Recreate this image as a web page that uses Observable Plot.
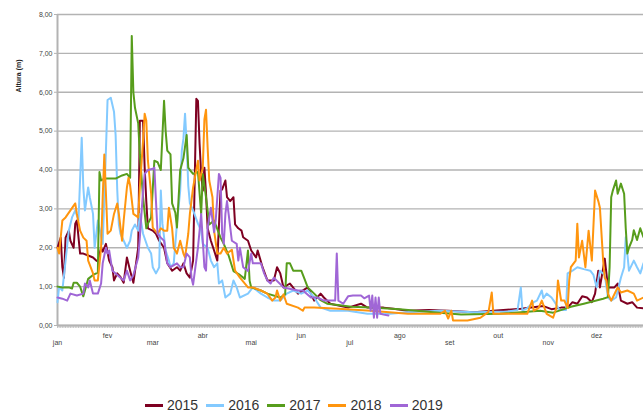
<!DOCTYPE html>
<html><head><meta charset="utf-8">
<script src="https://cdn.jsdelivr.net/npm/d3@7"></script>
<script src="https://cdn.jsdelivr.net/npm/@observablehq/plot@0.6"></script>
<style>
body{margin:0;background:#fff;font-family:"Liberation Sans",Arial,sans-serif;}
#legend{position:absolute;left:145px;top:397px;display:flex;align-items:center;font-size:14px;color:#333;line-height:16px;}
#legend .item{display:flex;align-items:center;margin-right:8px;}
#legend .sw{display:inline-block;width:18px;height:3px;margin-right:4px;}
</style>
</head><body>
<div id="chart"></div>
<div id="legend"></div>
<script>
const years = ["2015","2016","2017","2018","2019"];
const colors = ["#7e0021","#83caff","#579d1c","#ff950e","#a066d6"];
const monthLabels = ["jan","fev","mar","abr","mai","jun","jul","ago","set","out","nov","dez"];
const monthStarts = [0,31,59,90,120,151,181,212,243,273,304,334];
const yTicks = [0,1,2,3,4,5,6,7,8];

// [day of year, height in m]
const s2015 = [[0,2.0],[2,2.26],[3,1.5],[4,1.23],[5,2.26],[7,2.44],[8,2.18],[10,2.0],[11,2.62],[12,2.7],[14,1.85],[16,1.85],[19,1.8],[22,1.75],[24,1.67],[25,1.65],[27,2.0],[28,1.9],[30,2.1],[32,1.67],[34,1.5],[35,1.16],[37,1.34],[39,1.25],[41,1.1],[43,1.75],[45,1.41],[47,1.1],[50,2.0],[51,5.27],[53,5.27],[54,4.06],[55,3.2],[56,2.5],[59,2.44],[61,2.36],[63,2.18],[66,2.0],[68,1.6],[71,1.41],[74,1.5],[76,1.41],[78,1.6],[80,1.34],[82,1.23],[84,1.67],[86,5.83],[87,5.78],[88,4.68],[89,3.9],[90,3.47],[91,4.06],[92,3.4],[93,2.5],[95,2.18],[97,1.93],[99,1.67],[101,3.47],[102,3.5],[104,3.73],[105,3.3],[107,3.2],[109,3.3],[110,2.6],[112,2.5],[114,2.44],[115,2.27],[118,2.18],[120,1.93],[123,1.75],[124,1.93],[127,1.5],[130,1.16],[134,1.16],[136,1.5],[138,1.34],[140,0.98],[144,1.08],[149,0.82],[155,0.98],[159,0.64],[163,0.82],[165,0.72],[169,0.56],[180,0.46],[188,0.56],[192,0.46],[202,0.46],[208,0.43],[217,0.38],[230,0.4],[242,0.38],[258,0.34],[270,0.38],[287,0.43],[301,0.5],[306,0.42],[312,0.46],[316,0.46],[319,0.6],[322,0.56],[325,0.75],[328,0.72],[331,0.6],[333,0.82],[335,1.41],[336,0.98],[339,1.72],[341,0.98],[345,0.98],[347,1.08],[349,0.64],[353,0.56],[356,0.6],[359,0.46],[363,0.44]];
const s2016 = [[0,0.6],[1,1.0],[3,0.9],[5,1.67],[7,2.44],[9,2.78],[11,2.96],[13,2.7],[15,4.83],[16,3.55],[17,2.96],[19,3.55],[20,3.3],[22,2.87],[23,2.0],[25,2.7],[28,2.1],[30,4.5],[31,5.8],[33,5.86],[35,5.5],[36,4.9],[37,3.5],[38,2.6],[39,2.36],[41,2.18],[43,2.0],[45,2.18],[46,2.44],[48,2.6],[50,2.44],[51,2.87],[53,2.36],[56,2.0],[58,1.85],[59,1.5],[61,1.34],[63,1.5],[64,3.47],[65,2.62],[67,1.93],[69,1.67],[70,1.5],[72,1.6],[74,2.62],[76,3.47],[77,4.5],[78,4.8],[79,5.45],[80,4.68],[81,3.6],[82,3.14],[84,2.96],[87,2.62],[89,2.44],[90,2.1],[93,2.0],[95,1.67],[97,1.5],[99,1.6],[100,1.08],[102,1.16],[104,0.72],[107,0.82],[109,1.16],[111,0.98],[113,0.72],[118,0.82],[121,0.98],[126,0.82],[130,0.72],[134,0.64],[138,0.64],[142,0.82],[146,0.9],[151,0.82],[155,0.9],[159,0.72],[163,0.46],[169,0.38],[180,0.38],[192,0.3],[206,0.3],[217,0.34],[237,0.38],[258,0.34],[279,0.36],[285,0.4],[287,0.98],[288,0.38],[291,0.45],[295,0.6],[297,0.64],[300,0.9],[301,0.7],[303,0.82],[306,0.72],[308,0.6],[311,0.4],[315,0.4],[316,1.34],[319,1.41],[322,1.5],[326,1.45],[330,1.41],[332,1.3],[334,0.98],[336,1.41],[339,1.3],[341,0.72],[343,0.64],[346,0.72],[349,1.23],[351,1.5],[352,2.27],[354,1.41],[357,1.67],[359,1.5],[361,1.34],[363,1.6]];
const s2017 = [[0,1.0],[3,0.98],[7,0.98],[9,0.95],[10,1.1],[12,1.1],[14,1.0],[16,0.75],[17,0.9],[19,1.2],[22,1.3],[25,1.36],[26,3.95],[27,3.73],[29,3.78],[36,3.78],[40,3.86],[43,3.9],[45,3.8],[46,7.45],[47,6.0],[48,5.6],[50,5.2],[51,4.4],[53,3.3],[55,2.5],[56,2.62],[58,2.78],[60,4.24],[62,4.2],[64,4.0],[66,5.78],[67,5.0],[68,4.5],[70,4.4],[71,3.14],[73,2.9],[74,2.52],[76,4.0],[78,4.3],[80,4.9],[81,4.06],[82,4.0],[84,3.9],[87,3.95],[89,2.87],[90,3.9],[92,3.3],[94,2.6],[97,2.7],[101,2.26],[103,2.1],[106,1.8],[109,1.4],[113,1.3],[116,1.2],[118,1.93],[119,1.15],[120,0.98],[126,0.9],[130,0.82],[138,0.72],[141,0.8],[142,1.6],[144,1.6],[146,1.41],[151,1.41],[153,1.2],[155,0.98],[159,0.82],[163,0.65],[167,0.56],[175,0.52],[182,0.48],[194,0.46],[212,0.42],[231,0.35],[250,0.28],[274,0.3],[299,0.38],[307,0.33],[318,0.48],[326,0.56],[338,0.69],[341,0.73],[342,1.5],[343,3.3],[344,3.47],[346,3.73],[347,3.39],[349,3.65],[351,3.39],[352,2.5],[353,1.85],[354,2.0],[356,2.2],[357,2.45],[359,2.2],[361,2.5],[363,2.27]];
const s2018 = [[0,2.0],[1,1.85],[3,2.7],[5,2.78],[8,2.96],[11,3.14],[12,2.87],[14,2.44],[16,2.26],[18,2.18],[19,1.67],[22,1.34],[23,1.16],[25,1.16],[27,2.0],[28,3.3],[29,4.4],[30,3.4],[31,2.36],[33,2.44],[35,2.87],[37,3.14],[38,2.87],[40,2.18],[41,2.7],[43,3.55],[44,3.8],[45,3.6],[47,2.87],[50,2.78],[51,3.55],[53,4.75],[54,5.45],[55,5.27],[56,4.24],[58,3.4],[59,2.52],[62,2.36],[64,2.5],[66,2.44],[68,2.44],[69,3.03],[71,2.5],[72,2.0],[74,1.85],[76,2.18],[78,1.85],[79,1.75],[81,2.36],[82,2.87],[84,3.55],[87,4.24],[88,3.73],[90,4.06],[91,5.3],[92,5.55],[93,4.58],[94,3.73],[96,3.3],[97,2.44],[99,1.85],[101,1.85],[103,2.0],[105,1.85],[108,1.95],[110,1.41],[113,1.23],[118,0.98],[121,0.98],[126,0.9],[130,0.82],[133,0.64],[135,0.72],[136,0.9],[138,0.64],[140,0.8],[142,0.56],[149,0.46],[152,0.38],[153,0.46],[159,0.46],[174,0.43],[194,0.38],[217,0.3],[237,0.3],[240,0.38],[242,0.18],[244,0.38],[245,0.13],[254,0.13],[262,0.2],[267,0.35],[269,0.85],[270,0.3],[283,0.3],[291,0.3],[294,0.64],[295,0.38],[298,0.45],[300,0.64],[303,0.3],[307,0.2],[309,0.45],[310,1.16],[312,0.64],[314,0.64],[316,0.45],[317,1.16],[318,1.5],[321,1.67],[322,2.62],[323,1.75],[325,2.18],[327,1.5],[329,2.44],[331,1.67],[333,3.47],[335,3.2],[336,3.03],[338,1.67],[339,1.23],[340,1.16],[341,0.82],[343,0.64],[344,0.72],[347,0.98],[349,0.85],[353,0.9],[357,0.82],[359,0.64],[363,0.72]];
const s2019 = [[0,0.72],[3,0.69],[6,0.64],[8,0.82],[12,0.77],[16,0.82],[17,1.08],[19,0.98],[20,1.16],[22,0.82],[25,0.82],[27,1.08],[28,1.6],[30,2.0],[31,1.85],[32,1.93],[34,1.41],[36,1.34],[39,1.23],[41,1.16],[43,1.41],[45,1.16],[47,1.3],[50,1.75],[51,2.26],[53,3.47],[54,3.9],[56,4.0],[59,4.03],[60,4.06],[61,3.2],[62,2.36],[64,2.26],[66,2.18],[68,1.6],[70,1.5],[74,1.6],[76,1.5],[78,1.5],[80,1.85],[82,1.75],[83,1.23],[84,1.05],[87,2.0],[89,2.87],[90,2.18],[91,1.5],[92,1.41],[93,2.52],[95,3.03],[97,2.4],[98,2.7],[100,3.9],[101,3.8],[102,2.36],[103,2.1],[104,2.87],[105,3.2],[106,2.87],[108,2.18],[111,2.1],[112,1.67],[113,2.0],[115,1.5],[118,1.4],[120,1.85],[121,1.6],[124,1.6],[126,1.6],[128,1.34],[130,1.16],[132,1.08],[134,1.23],[140,0.98],[149,0.9],[152,0.9],[157,0.72],[161,0.72],[165,0.64],[172,0.64],[173,1.85],[174,0.64],[177,0.56],[180,0.75],[183,0.77],[188,0.77],[190,0.7],[193,0.77],[194,0.38],[195,0.77],[196,0.2],[197,0.72],[198,0.2],[199,0.72],[200,0.3],[202,0.28],[205,0.26]];

const series = [s2015, s2016, s2017, s2018, s2019];
const rows = [];
series.forEach((s, i) => s.forEach(([day, value]) => rows.push({year: years[i], day, value})));

const fmt = d => d.toFixed(2).replace(".", ",");
const labelOf = d => monthLabels[monthStarts.indexOf(d)];
const grey = "#b3b3b3";

const chart = Plot.plot({
  width: 643, height: 352,
  marginLeft: 57, marginRight: 0, marginTop: 14, marginBottom: 27,
  x: {domain: [0, 363], axis: null},
  y: {domain: [0, 8]},
  color: {domain: years, range: colors},
  style: {fontFamily: "'Liberation Sans', Arial, sans-serif", background: "#fff", color: "#444"},
  marks: [
    Plot.gridY(yTicks, {stroke: grey, strokeOpacity: 1, strokeWidth: 1.3}),
    Plot.axisY(yTicks, {tickFormat: fmt, fontSize: 7, tickSize: 3, tickPadding: 2, stroke: grey, label: null}),
    Plot.axisX(d3.range(0, 364), {tickSize: 3, tickFormat: () => "", stroke: "#c4c4c4", label: null}),
    Plot.text(monthStarts.filter((d, i) => i % 2 === 0), {x: d => d, text: labelOf, frameAnchor: "bottom", dy: 17.5, lineAnchor: "middle", fontSize: 7, fill: "#444"}),
    Plot.text(monthStarts.filter((d, i) => i % 2 === 1), {x: d => d, text: labelOf, frameAnchor: "bottom", dy: 10, lineAnchor: "middle", fontSize: 7, fill: "#444"}),
    Plot.ruleY([0], {stroke: grey, strokeWidth: 2}),
    Plot.ruleX([0], {stroke: grey, strokeWidth: 2}),
    Plot.lineY(rows, {x: "day", y: "value", z: "year", stroke: "year", strokeWidth: 2}),
    Plot.text(["Altura (m)"], {frameAnchor: "top-left", dx: -41, dy: 78, rotate: -90, fontWeight: "bold", fontSize: 7, fill: "#222"})
  ]
});
document.getElementById("chart").appendChild(chart);

const legend = document.getElementById("legend");
years.forEach((y, i) => {
  const item = document.createElement("div");
  item.className = "item";
  item.innerHTML = `<span class="sw" style="background:${colors[i]}"></span><span>${y}</span>`;
  legend.appendChild(item);
});
</script>
</body></html>
